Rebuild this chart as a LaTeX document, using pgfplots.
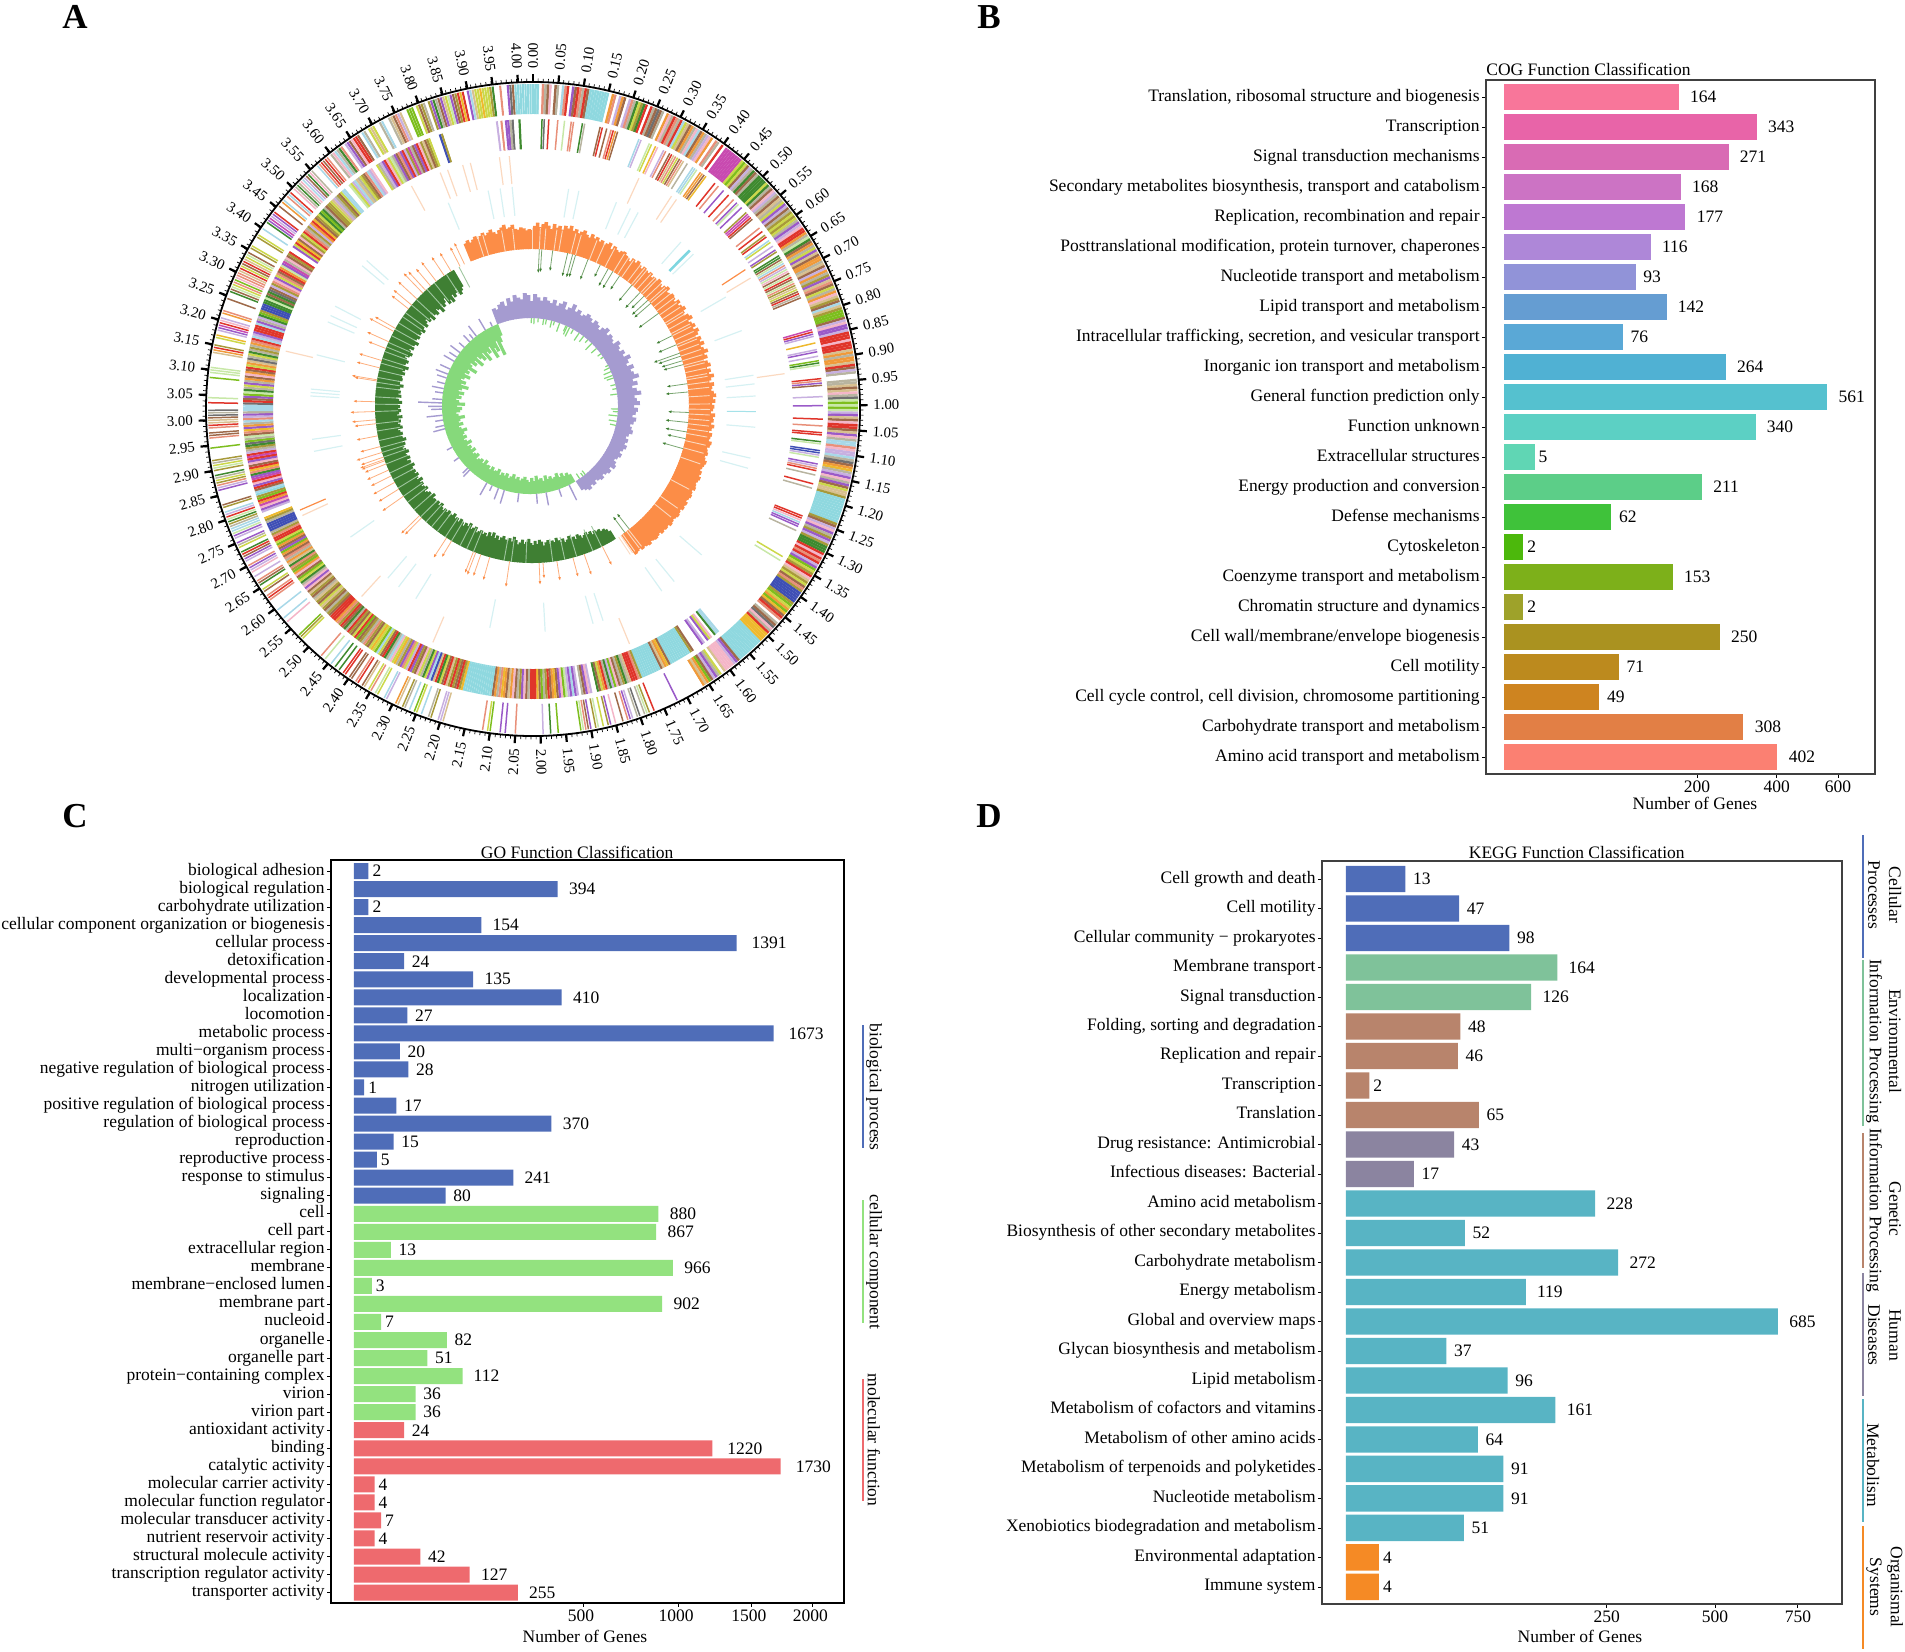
\documentclass[border=0pt]{standalone}
\usepackage{fontspec}
\setmainfont{Liberation Serif}
\usepackage{pgfplots}
\pgfplotsset{compat=1.18}
\usetikzlibrary{arrows.meta}
\pgfkeys{/pgf/number format/.cd,1000 sep={},fixed,precision=2,assume math mode=true}

\definecolor{cblue}{HTML}{4F6DB8}
\definecolor{cgreen}{HTML}{93E27F}
\definecolor{cred}{HTML}{EE6A6E}
\definecolor{kgreen}{HTML}{7FC29A}
\definecolor{kbrown}{HTML}{B8846C}
\definecolor{kgrey}{HTML}{8B84A0}
\definecolor{kteal}{HTML}{58B4C4}
\definecolor{korange}{HTML}{F58A25}
\definecolor{aorange}{HTML}{FC8D47}
\definecolor{agreen}{HTML}{3F7F33}
\definecolor{apurple}{HTML}{A59BD0}
\definecolor{alight}{HTML}{86D97B}
\definecolor{palecyan}{HTML}{D6F1F3}
\definecolor{paleorange}{HTML}{FBD9C0}
\definecolor{acyan}{HTML}{7FD6E0}

\newcommand{\lab}{\fontsize{8.75}{10}\selectfont}
% hjust -0.4 as in the original bar labels
\newcommand{\hj}[1]{\setbox0=\hbox{#1}\hspace*{0.42\wd0}\box0}

\pgfplotsset{
  every axis title shift=0pt,
  barpanel/.style={
    xbar, bar shift=0pt, scale only axis, anchor=north west, y dir=reverse,
    x filter/.code={\pgfmathparse{sqrt(##1)}},
    axis line style={draw=black!75, line width=0.8pt},
    tick style={draw=black, line width=0.4pt},
    major tick length=1.8pt, ytick pos=left, xtick pos=bottom,
    tick align=outside, minor tick num=0,
    tick label style={font=\lab, inner sep=1.2pt},
    yticklabel style={text height=6pt, text depth=2pt},
    point meta=rawx,
    nodes near coords={\hj{\pgfmathprintnumber[precision=0]{\pgfplotspointmeta}}},
    nodes near coords style={font=\lab, anchor=west, inner sep=0pt},
    title style={font=\lab, inner sep=0pt},
    xlabel style={font=\lab, inner sep=0pt, anchor=center},
  }
}

% one stripe per row, colour index read from the table, grid start+i*step in Mb
\newcommand{\ringrun}[6]{\addplot[line width=#5,
  quiver={u={(#2-#1)*sin((#3+\coordindex*#4)*89.33)}, v={(#2-#1)*cos((#3+\coordindex*#4)*89.33)}, colored=mapped color},
  point meta=\thisrowno{0}]
  table[row sep=crcr,header=false,x expr={#1*sin((#3+\coordindex*#4)*89.33)},y expr={#1*cos((#3+\coordindex*#4)*89.33)}]{#6};}
% bars of a histogram ring, heights in px, sign gives the direction
\newcommand{\hist}[6]{\addplot[draw=#1,line width=#6,
  quiver={u={#3*\thisrowno{0}*sin((#4+\coordindex*#5)*89.33)}, v={#3*\thisrowno{0}*cos((#4+\coordindex*#5)*89.33)}}]
  table[row sep=crcr,header=false,x expr={-1+#2*sin((#4+\coordindex*#5)*89.33)},y expr={3+#2*cos((#4+\coordindex*#5)*89.33)}]}
% free standing lines at given Mb positions
\newcommand{\lines}[6]{\addplot[draw=#1,line width=#4,
  quiver={u={(#3-#2)*sin(\thisrowno{0}*89.33)}, v={(#3-#2)*cos(\thisrowno{0}*89.33)}}]
  table[row sep=crcr,header=false,x expr={#5+#2*sin(\thisrowno{0}*89.33)},y expr={#6+#2*cos(\thisrowno{0}*89.33)}]}
% spikes: position, length, from a base radius
\newcommand{\spikes}[5]{\addplot[draw=#1,line width=#4,#5,
  quiver={u={#3*\thisrowno{1}*sin(\thisrowno{0}*89.33)}, v={#3*\thisrowno{1}*cos(\thisrowno{0}*89.33)}}]
  table[row sep=crcr,header=false,x expr={-1+#2*sin(\thisrowno{0}*89.33)},y expr={3+#2*cos(\thisrowno{0}*89.33)}]}

\begin{document}
\begin{tikzpicture}
\path[use as bounding box] (0,0) rectangle (952.5pt,-825.5pt);

% ---------- A: genome circle
\begin{axis}[hide axis, scale only axis, width=350pt, height=350pt, clip=false,
  xmin=-350,xmax=350,ymin=-350,ymax=350, anchor=center, at={(266.5pt,-204.5pt)},
  point meta min=0, point meta max=20,
  colormap={cog}{rgb255=(255,255,255) rgb255=(224,53,43) rgb255=(240,154,58) rgb255=(238,185,46)
    rgb255=(204,216,74) rgb255=(125,190,30) rgb255=(63,138,47) rgb255=(168,154,58)
    rgb255=(168,216,232) rgb255=(63,79,181) rgb255=(154,90,200) rgb255=(200,74,176)
    rgb255=(244,182,200) rgb255=(232,144,122) rgb255=(158,106,74) rgb255=(184,180,160)
    rgb255=(200,176,224) rgb255=(216,192,144) rgb255=(200,232,168) rgb255=(112,112,112)
    rgb255=(143,216,223)}]

% outer ring, dense part
\ringrun{295}{325}{0}{0.005}{1.25pt}{
20\\20\\20\\0\\13\\15\\14\\12\\0\\14\\15\\0\\8\\13\\1\\0\\10\\14\\1\\13\\
15\\1\\14\\20\\20\\20\\20\\20\\20\\20\\20\\0\\2\\13\\0\\16\\2\\14\\0\\16\\
13\\15\\6\\4\\7\\6\\1\\0\\1\\15\\14\\19\\14\\15\\0\\2\\12\\15\\1\\13\\
15\\1\\8\\4\\17\\14\\2\\15\\12\\8\\14\\2\\15\\16\\12\\2\\0\\13\\15\\0\\
1\\0\\11\\11\\11\\11\\11\\11\\11\\11\\4\\5\\4\\14\\16\\15\\6\\14\\15\\6\\
6\\6\\6\\4\\6\\15\\14\\12\\16\\15\\14\\17\\15\\4\\10\\16\\14\\15\\7\\4\\
7\\4\\15\\10\\16\\12\\1\\1\\2\\15\\18\\6\\14\\2\\15\\4\\10\\17\\14\\2\\
2\\15\\17\\14\\16\\2\\15\\7\\10\\17\\13\\14\\4\\15\\2\\12\\17\\7\\14\\8\\
17\\7\\5\\5\\5\\14\\16\\12\\10\\10\\16\\1\\1\\1\\12\\1\\1\\1\\17\\2\\
15\\2\\2\\17\\1\\14\\16\\15\\0\\0\\15\\15\\17\\14\\17\\12\\15\\19\\18\\5\\
18\\5\\18\\16\\10\\17\\14\\12\\1\\1\\14\\17\\10\\12\\15\\8\\8\\13\\12\\16\\
16\\8\\15\\19\\14\\2\\3\\15\\16\\10\\12\\15\\10\\14\\4\\17\\17\\7\\20\\20\\
20\\20\\20\\20\\20\\20\\20\\20\\7\\14\\16\\12\\10\\15\\7\\10\\16\\7\\6\\6\\
6\\1\\12\\1\\13\\1\\16\\10\\5\\4\\7\\1\\12\\17\\7\\4\\14\\13\\7\\9\\
9\\9\\9\\9\\7\\5\\4\\2\\5\\3\\14\\1\\13\\0\\15\\14\\19\\12\\15\\1\\
3\\3\\3\\3\\20\\20\\20\\20\\20\\20\\20\\20\\20\\20\\20\\14\\10\\16\\12\\12\\
12\\12\\17\\0\\4\\15\\10\\16\\14\\5\\2\\17\\2\\0\\0\\0\\0\\0\\0\\0\\}
% outer ring, sparse part
\ringrun{295}{325}{1.70}{0.005}{0.75pt}{
0\\0\\0\\0\\10\\0\\0\\0\\0\\0\\0\\0\\0\\0\\1\\0\\7\\18\\15\\0\\
19\\15\\0\\16\\10\\13\\0\\14\\0\\0\\12\\0\\10\\7\\0\\4\\0\\18\\7\\0\\
10\\14\\13\\18\\5\\0\\0\\0\\0\\0\\0\\0\\0\\5\\0\\0\\6\\0\\0\\16\\
0\\0\\0\\0\\0\\0\\0\\0\\0\\0\\13\\0\\0\\0\\10\\0\\10\\0\\0\\0\\
5\\4\\0\\13\\0\\0\\0\\0\\0\\0\\0\\0\\0\\0\\0\\0\\0\\0\\0\\17\\
16\\16\\0\\0\\7\\15\\0\\0\\8\\0\\4\\5\\0\\8\\0\\15\\7\\0\\17\\2\\
0\\0\\0\\16\\8\\0\\0\\4\\18\\0\\13\\4\\0\\17\\14\\0\\1\\13\\0\\14\\
14\\0\\1\\1\\0\\6\\0\\6\\0\\8\\0\\0\\18\\0\\13\\0\\0\\0\\0\\0\\
0\\0\\0\\0\\4\\7\\5\\0\\0\\0\\0\\0\\0\\12\\0\\8\\0\\0\\0\\8\\
0\\0\\0\\0\\13\\1\\13\\0\\14\\4\\0\\6\\14\\13\\0\\16\\0\\12\\16\\10\\
13\\0\\16\\10\\14\\1\\6\\0\\4\\15\\10\\0\\16\\10\\18\\8\\8\\15\\7\\6\\
18\\1\\16\\8\\0\\7\\14\\0\\0\\0\\0\\0\\10\\16\\13\\7\\4\\15\\6\\0\\
7\\18\\4\\15\\7\\0\\0\\0\\0\\5\\0\\0\\0\\13\\14\\14\\0\\13\\1\\17\\
17\\14\\19\\15\\19\\0\\0\\1\\0\\18\\0\\0\\0\\0\\0\\0\\0\\5\\0\\18\\
18\\18\\0\\0\\0\\0\\0\\17\\2\\1\\7\\0\\0\\4\\3\\0\\16\\10\\11\\1\\
12\\16\\0\\2\\13\\0\\0\\0\\0\\14\\0\\0\\6\\14\\18\\4\\13\\5\\12\\13\\
13\\17\\1\\4\\14\\1\\17\\4\\18\\14\\0\\7\\4\\0\\0\\0\\7\\4\\0\\0\\
8\\0\\0\\6\\10\\11\\16\\10\\1\\0\\0\\14\\0\\2\\8\\0\\13\\8\\1\\0\\
12\\15\\6\\15\\12\\8\\16\\14\\6\\12\\15\\0\\0\\8\\13\\1\\14\\1\\13\\0\\}
\ringrun{295}{325}{3.60}{0.005}{1.05pt}{
15\\12\\8\\15\\6\\13\\0\\16\\10\\14\\12\\1\\1\\14\\0\\8\\15\\0\\4\\17\\
4\\0\\0\\15\\8\\0\\0\\15\\17\\14\\13\\16\\17\\0\\0\\5\\5\\5\\0\\4\\
14\\7\\15\\0\\7\\10\\6\\15\\14\\10\\17\\4\\18\\10\\14\\7\\1\\3\\1\\0\\
10\\8\\17\\4\\4\\3\\4\\4\\4\\7\\6\\0\\0\\13\\0\\0\\10\\19\\14\\20\\
20\\20\\20\\20\\20\\20\\20\\}

% second ring, sparse part
\ringrun{260}{290}{0}{0.005}{0.75pt}{
0\\0\\0\\0\\6\\19\\0\\1\\0\\0\\0\\13\\0\\0\\18\\0\\0\\13\\13\\0\\
0\\0\\6\\15\\0\\0\\0\\0\\0\\0\\14\\1\\0\\14\\0\\13\\1\\2\\14\\0\\
0\\0\\0\\0\\0\\0\\0\\0\\8\\16\\0\\0\\0\\18\\4\\0\\3\\12\\0\\0\\
16\\13\\0\\14\\1\\17\\13\\4\\14\\13\\17\\0\\15\\0\\0\\8\\8\\18\\0\\2\\
2\\14\\3\\0\\0\\0\\0\\1\\0\\13\\0\\0\\10\\0\\0\\1\\0\\0\\13\\0\\
10\\18\\0\\10\\0\\0\\7\\11\\11\\1\\14\\0\\0\\0\\0\\13\\0\\1\\0\\7\\
1\\0\\8\\4\\0\\16\\0\\10\\7\\0\\6\\6\\14\\18\\8\\13\\16\\18\\12\\14\\
18\\1\\14\\18\\13\\7\\17\\4\\14\\1\\15\\14\\0\\0\\0\\0\\0\\0\\0\\0\\
0\\0\\0\\0\\0\\0\\11\\1\\10\\16\\0\\0\\3\\0\\0\\16\\10\\0\\16\\0\\
5\\6\\18\\0\\0\\0\\0\\0\\1\\13\\10\\14\\0\\0\\0\\0\\16\\0\\0\\0\\
10\\0\\0\\0\\0\\0\\1\\0\\0\\13\\0\\0\\1\\1\\0\\0\\6\\18\\0\\0\\
9\\9\\16\\18\\0\\0\\10\\16\\13\\1\\0\\15\\0\\0\\0\\1\\0\\15\\0\\0\\
0\\0\\0\\0\\0\\0\\0\\0\\0\\0\\1\\1\\12\\8\\10\\10\\0\\15\\0\\0\\
0\\0\\0\\0\\0\\0\\0\\0\\0\\0\\4\\0\\18\\0\\0\\0\\0\\0\\0\\0\\}
% second ring, dense part
\ringrun{260}{290}{1.57}{0.005}{1.1pt}{
8\\8\\6\\0\\12\\4\\10\\0\\16\\10\\0\\0\\0\\0\\14\\7\\20\\20\\20\\20\\20\\20\\20\\20\\20\\20\\
14\\3\\2\\17\\14\\20\\20\\20\\20\\20\\20\\20\\20\\20\\7\\13\\1\\1\\1\\17\\
15\\6\\7\\15\\14\\12\\5\\16\\6\\15\\1\\2\\4\\14\\6\\0\\0\\16\\12\\10\\
14\\15\\0\\16\\10\\8\\10\\16\\18\\5\\12\\10\\14\\3\\2\\14\\1\\7\\15\\5\\
14\\3\\1\\1\\1\\15\\14\\12\\10\\7\\15\\14\\12\\2\\17\\14\\2\\3\\13\\15\\
2\\14\\20\\20\\20\\20\\20\\20\\20\\20\\20\\20\\20\\20\\20\\3\\7\\1\\14\\7\\
1\\7\\17\\1\\14\\4\\6\\1\\17\\9\\8\\10\\4\\6\\15\\4\\12\\14\\7\\10\\
1\\16\\4\\13\\10\\7\\15\\3\\4\\12\\8\\15\\6\\1\\14\\4\\8\\5\\4\\3\\
4\\14\\7\\13\\15\\7\\14\\5\\1\\4\\14\\7\\1\\15\\6\\14\\1\\7\\13\\2\\
1\\1\\1\\14\\7\\15\\14\\7\\17\\4\\14\\7\\17\\15\\14\\7\\17\\14\\12\\10\\
12\\15\\6\\4\\5\\14\\12\\2\\5\\7\\13\\6\\17\\2\\15\\13\\14\\2\\5\\10\\
14\\2\\5\\4\\1\\1\\13\\7\\15\\9\\9\\9\\9\\15\\7\\3\\0\\0\\16\\10\\
12\\11\\2\\1\\5\\7\\20\\8\\14\\1\\10\\12\\1\\11\\10\\6\\13\\3\\1\\14\\
12\\10\\1\\11\\1\\16\\15\\7\\6\\19\\5\\15\\18\\14\\13\\3\\10\\2\\15\\8\\
13\\16\\10\\15\\8\\8\\8\\19\\1\\14\\10\\5\\18\\6\\15\\4\\10\\15\\2\\14\\
12\\2\\14\\1\\4\\2\\17\\19\\15\\4\\6\\15\\7\\15\\2\\13\\1\\8\\16\\10\\
1\\1\\1\\8\\10\\15\\16\\6\\5\\7\\9\\9\\9\\6\\6\\18\\6\\14\\6\\19\\
14\\16\\7\\13\\12\\10\\4\\13\\14\\1\\2\\18\\10\\11\\15\\12\\14\\7\\1\\0\\
0\\10\\4\\1\\3\\14\\12\\7\\4\\1\\13\\15\\7\\16\\2\\1\\3\\14\\7\\4\\
6\\5\\6\\15\\14\\7\\7\\4\\17\\16\\15\\7\\14\\4\\8\\8\\0\\0\\18\\4\\
16\\8\\17\\15\\4\\7\\14\\13\\8\\16\\12\\0\\0\\4\\15\\16\\10\\1\\12\\4\\
18\\15\\10\\14\\13\\10\\1\\16\\7\\11\\15\\14\\10\\1\\12\\7\\17\\14\\7\\4\\
0\\0\\0\\0\\9\\7\\0\\0\\0\\0\\0\\0\\0\\0\\0\\0\\0\\0\\0\\0\\
0\\0\\0\\0\\0\\0\\0\\0\\0\\0\\16\\0\\13\\0\\10\\10\\15\\19\\0\\0\\
6\\}

% pale rings
\lines{paleorange}{226}{254}{0.6pt}{0}{0}{0.276\\0.37\\0.385\\0.66\\0.918\\1.765\\2.275\\2.49\\2.745\\3.17\\3.71\\3.79\\3.81\\3.85\\3.87\\3.945\\3.97\\};
\lines{aorange}{226}{254}{0.6pt}{0}{0}{0.635\\2.76\\};
\lines{palecyan}{194}{223}{0.6pt}{0}{0}{0.103\\0.133\\0.246\\0.29\\0.315\\0.465\\0.515\\0.67\\0.777\\0.91\\0.935\\0.97\\1.06\\1.15\\1.18\\1.465\\1.575\\1.62\\1.81\\1.84\\1.98\\2.14\\2.37\\2.43\\2.47\\2.63\\2.90\\2.935\\3.06\\3.07\\3.08\\3.18\\3.28\\3.30\\3.33\\3.47\\3.49\\3.78\\3.90\\3.935\\3.97\\};
\lines{acyan}{194}{223}{1.3pt}{0}{0}{0.50\\};
\lines{acyan!70}{194}{223}{0.5pt}{0}{0}{1.015\\};

% orange ring, outward from the base circle
\hist{aorange}{157}{1.1}{3.78}{0.01}{1.8pt}{
17\\19\\16\\18\\20\\17\\19\\21\\18\\20\\22\\19\\17\\20\\22\\24\\20\\21\\23\\19\\18\\20\\19\\17\\18\\
17\\21\\24\\20\\23\\25\\22\\19\\24\\21\\23\\20\\24\\22\\25\\21\\23\\20\\22\\24\\21\\19\\23\\20\\22\\
19\\21\\18\\20\\22\\17\\21\\19\\18\\20\\21\\19\\18\\16\\20\\18\\21\\19\\17\\20\\19\\18\\20\\17\\19\\
18\\21\\19\\17\\20\\22\\18\\19\\21\\20\\18\\22\\19\\21\\23\\20\\18\\22\\24\\19\\21\\23\\20\\24\\22\\
19\\23\\21\\24\\20\\22\\25\\21\\23\\19\\22\\24\\20\\23\\21\\25\\22\\20\\24\\22\\21\\23\\25\\22\\24\\
21\\23\\22\\20\\24\\22\\23\\21\\24\\22\\20\\23\\22\\21\\24\\23\\21\\22\\23\\21\\22\\24\\23\\22\\21\\
23\\22\\24\\23\\22\\23\\24\\22\\23\\24\\23\\22\\24\\23\\24\\22\\23\\24\\23\\22\\23\\24\\22\\23\\22\\
23\\21\\22\\23\\22\\21\\23\\22\\21\\22\\20\\21\\22\\};

% green ring, inward from the base circle
\hist{agreen}{157}{-1}{1.66}{0.01}{1.5pt}{
10\\13\\15\\14\\17\\16\\18\\15\\19\\17\\20\\18\\16\\19\\21\\17\\20\\18\\22\\19\\17\\21\\18\\20\\23\\19\\21\\18\\22\\20\\
17\\21\\23\\19\\22\\18\\20\\24\\21\\19\\23\\20\\18\\22\\25\\20\\23\\19\\21\\24\\22\\19\\23\\20\\25\\21\\24\\19\\22\\20\\
23\\21\\19\\24\\22\\20\\25\\21\\23\\19\\22\\24\\20\\23\\21\\25\\22\\19\\24\\21\\23\\20\\22\\25\\21\\24\\20\\23\\22\\26\\
21\\24\\22\\20\\25\\23\\21\\24\\22\\26\\21\\23\\25\\22\\24\\20\\23\\26\\22\\24\\21\\25\\23\\22\\26\\24\\21\\23\\25\\22\\
27\\24\\22\\25\\23\\21\\26\\24\\22\\25\\23\\27\\22\\24\\26\\23\\25\\22\\27\\24\\21\\26\\23\\25\\22\\24\\27\\23\\21\\25\\
24\\22\\26\\23\\25\\28\\22\\24\\26\\23\\21\\25\\27\\24\\22\\26\\23\\25\\28\\22\\24\\26\\21\\25\\23\\27\\24\\22\\26\\23\\
20\\25\\22\\27\\19\\24\\26\\21\\23\\28\\20\\25\\22\\18\\26\\23\\27\\20\\24\\21\\17\\25\\22\\19\\};

% pale streaks in the two thick rings
\lines{paleorange}{157}{178}{0.45pt}{-1}{3}{3.83\\3.85\\3.92\\3.96\\4.03\\0.03\\0.05\\0.09\\0.11\\0.16\\0.18\\0.24\\0.27\\0.31\\0.35\\0.37\\0.39\\0.42\\0.44\\0.45\\0.47\\0.49\\0.50\\0.52\\0.54\\0.55\\0.57\\0.59\\0.61\\0.63\\0.65\\0.66\\0.68\\0.70\\0.71\\0.73\\0.75\\0.76\\0.78\\0.80\\0.82\\0.84\\0.85\\0.87\\0.89\\0.90\\0.92\\0.94\\0.97\\1.00\\1.02\\1.04\\1.06\\1.08\\1.10\\1.12\\1.15\\1.18\\1.22\\1.32\\1.40\\1.44\\1.59\\1.60\\1.62\\1.63\\1.64\\};
\lines{green!25!gray!60}{134}{157}{0.45pt}{-1}{3}{1.72\\1.76\\1.83\\1.88\\1.93\\2.04\\2.10\\2.13\\2.26\\2.29\\2.32\\2.36\\2.39\\2.43\\2.46\\2.49\\2.52\\2.56\\2.60\\2.63\\2.67\\2.71\\2.74\\2.78\\2.81\\2.83\\2.85\\2.88\\2.92\\2.95\\3.00\\3.03\\3.06\\3.10\\3.12\\3.14\\3.17\\3.20\\3.22\\3.25\\3.27\\3.29\\3.32\\3.35\\3.38\\3.41\\3.43\\3.47\\3.50\\3.56\\3.60\\3.66\\3.72\\};

% sparse spikes outside the green part and inside the orange part
\spikes{aorange!70}{157}{1}{0.4pt}{-{Latex[length=1.8pt,width=1.4pt,color=aorange]}}{3.745 24\\3.725 22\\3.683 22\\3.65 23\\3.61 25\\3.58 23\\3.553 26\\3.537 28\\3.503 26\\3.47 24\\3.45 22\\3.354 24\\3.34 28\\3.293 24\\3.263 19\\3.211 24\\3.18 24\\3.13 26\\3.125 23\\3.04 22\\3.0 25\\2.966 24\\2.95 22\\2.90 22\\2.855 21\\2.83 27\\2.81 24\\2.80 26\\2.794 25\\2.78 23\\2.753 24\\2.727 23\\2.697 25\\2.665 24\\2.63 26\\2.527 26\\2.515 24\\2.384 24\\2.36 19\\2.26 23\\2.25 24\\2.228 23\\2.19 24\\2.107 26\\1.986 22\\1.97 16\\1.913 20\\1.846 20\\1.798 22\\1.717 21\\};
\spikes{agreen!70}{157}{-1}{0.4pt}{-{Latex[length=1.8pt,width=1.4pt,color=agreen]}}{0.03 24\\0.04 23\\0.085 21\\0.147 24\\0.168 24\\0.18 23\\0.234 22\\0.289 14\\0.325 20\\0.347 20\\0.38 17\\0.443 21\\0.488 22\\0.51 18\\0.533 22\\0.55 22\\0.602 25\\0.709 18\\0.75 20\\0.787 28\\0.80 24\\0.82 22\\0.836 21\\0.916 21\\0.95 23\\1.034 21\\1.075 23\\1.114 22\\1.142 19\\1.184 22\\1.586 20\\1.609 20\\};

% purple ring, outward from r=88
\addplot[draw=apurple,line width=2pt,
  quiver={u={\thisrowno{0}*sin((3.80+\coordindex*0.02)*89.33)}, v={\thisrowno{0}*cos((3.80+\coordindex*0.02)*89.33)}}]
  table[row sep=crcr,header=false,x expr={-3+88*sin((3.80+\coordindex*0.02)*89.33)},y expr={3+88*cos((3.80+\coordindex*0.02)*89.33)}]{
16\\14\\18\\20\\15\\22\\18\\24\\21\\19\\25\\23\\17\\24\\21\\18\\22\\19\\17\\21\\16\\19\\22\\15\\18\\23\\17\\20\\16\\18\\
21\\19\\16\\20\\18\\15\\19\\22\\17\\20\\18\\16\\22\\19\\17\\21\\18\\24\\20\\17\\23\\19\\21\\25\\18\\22\\16\\20\\24\\17\\
19\\22\\16\\20\\18\\15\\19\\17\\14\\16\\18\\15\\13\\16\\14\\17\\15\\13\\16\\14\\12\\15\\17\\13\\16\\14\\12\\15\\13\\11\\
14\\12\\15\\13\\11\\};
% light green ring, inward
\addplot[draw=alight,line width=1.6pt,
  quiver={u={-\thisrowno{0}*sin((1.68+\coordindex*0.02)*89.33)}, v={-\thisrowno{0}*cos((1.68+\coordindex*0.02)*89.33)}}]
  table[row sep=crcr,header=false,x expr={-3+88*sin((1.68+\coordindex*0.02)*89.33)},y expr={3+88*cos((1.68+\coordindex*0.02)*89.33)}]{
9\\12\\10\\14\\11\\16\\13\\12\\15\\13\\17\\12\\15\\14\\18\\13\\16\\12\\14\\17\\15\\13\\16\\14\\18\\15\\13\\17\\14\\16\\
13\\18\\15\\14\\17\\13\\16\\15\\19\\14\\17\\15\\13\\18\\16\\14\\19\\15\\17\\14\\20\\16\\14\\18\\15\\17\\21\\16\\14\\19\\
15\\17\\22\\16\\14\\18\\20\\15\\23\\17\\14\\19\\16\\21\\15\\18\\24\\16\\20\\14\\17\\22\\15\\19\\16\\25\\18\\15\\21\\17\\
26\\16\\20\\24\\17\\28\\19\\22\\16\\30\\20\\25\\15\\31\\18\\12\\};
\addplot[draw=apurple,line width=0.7pt,
  quiver={u={\thisrowno{1}*sin(\thisrowno{0}*89.33)}, v={\thisrowno{1}*cos(\thisrowno{0}*89.33)}}]
  table[row sep=crcr,header=false,x expr={-3+88*sin(\thisrowno{0}*89.33)},y expr={3+88*cos(\thisrowno{0}*89.33)}]{
1.72 17\\1.80 8\\1.897 13\\1.967 10\\2.097 9\\2.205 14\\2.25 12\\2.30 6\\2.343 14\\2.50 9\\2.52 7\\2.62 6\\2.71 6\\2.855 12\\2.88 9\\2.92 8\\2.955 16\\3.0 11\\3.02 14\\3.045 24\\3.07 10\\3.118 8\\3.15 12\\3.187 8\\3.23 10\\3.26 13\\3.30 11\\3.364 12\\3.40 9\\3.44 12\\3.49 7\\3.546 9\\3.58 6\\3.61 13\\3.689 13\\3.746 5\\};
\addplot[draw=alight,line width=0.6pt,
  quiver={u={-\thisrowno{1}*sin(\thisrowno{0}*89.33)}, v={-\thisrowno{1}*cos(\thisrowno{0}*89.33)}}]
  table[row sep=crcr,header=false,x expr={-3+88*sin(\thisrowno{0}*89.33)},y expr={3+88*cos(\thisrowno{0}*89.33)}]{
0.01 5\\0.03 6\\0.06 4\\0.10 6\\0.12 5\\0.16 7\\0.18 4\\0.22 9\\0.27 6\\0.28 9\\0.30 10\\0.33 5\\0.38 9\\0.42 7\\0.46 4\\0.50 9\\0.55 7\\0.60 4\\0.63 3\\0.70 3\\0.72 6\\0.75 8\\0.78 9\\0.80 7\\0.85 5\\0.88 4\\0.92 7\\1.03 7\\1.05 5\\1.08 9\\1.12 8\\1.15 6\\1.58 5\\1.60 4\\1.63 6\\};
\end{axis}

% scale of the circle
\begin{scope}[shift={(266.5pt,-204.5pt)}]
\draw[line width=0.9pt] (0,0) circle[radius=163.5pt];
\foreach \i in {0,...,402}{\draw[line width=0.35pt] ({90-\i*0.01*89.33}:163.5pt) -- ({90-\i*0.01*89.33}:165.2pt);}
\foreach \i in {0,...,80}{
  \pgfmathsetmacro{\th}{\i*0.05*89.33}
  \draw[line width=1.1pt] ({90-\th}:163.5pt) -- ({90-\th}:167.3pt);
  \pgfmathsetmacro{\mb}{\i*0.05}
  \pgfmathparse{\th<=180?1:0}
  \ifdim\pgfmathresult pt>0.5pt
    \node[rotate={90-\th},anchor=west,inner sep=0pt,font=\fontsize{7.4}{9}\selectfont] at ({90-\th}:170pt) {\pgfmathprintnumber[fixed zerofill,precision=2]{\mb}};
  \else
    \node[rotate={270-\th},anchor=east,inner sep=0pt,font=\fontsize{7.4}{9}\selectfont] at ({90-\th}:170pt) {\pgfmathprintnumber[fixed zerofill,precision=2]{\mb}};
  \fi
}
\end{scope}

% ---------- B: COG
\begin{axis}[barpanel, at={(743pt,-40pt)}, width=194.5pt, height=347pt, bar width=13.3pt,
  xmin=-1.32, xmax=27.2, ymin=-0.567, ymax=22.567,
  title={COG Function Classification}, title style={at={(axis description cs:0,1.0159)},anchor=west},
  xlabel={Number of Genes}, xlabel style={at={(axis description cs:0.537,-0.0418)}},
  xtick={14.142,20,24.495}, xticklabels={200,400,600},
  ytick={0,...,22},
  yticklabels={{Translation, ribosomal structure and biogenesis},Transcription,Signal transduction mechanisms,
    {Secondary metabolites biosynthesis, transport and catabolism},{Replication, recombination and repair},
    {Posttranslational modification, protein turnover, chaperones},Nucleotide transport and metabolism,
    Lipid transport and metabolism,{Intracellular trafficking, secretion, and vesicular transport},
    Inorganic ion transport and metabolism,General function prediction only,Function unknown,Extracellular structures,
    Energy production and conversion,Defense mechanisms,Cytoskeleton,Coenzyme transport and metabolism,
    Chromatin structure and dynamics,Cell wall/membrane/envelope biogenesis,Cell motility,
    {Cell cycle control, cell division, chromosome partitioning},Carbohydrate transport and metabolism,
    Amino acid transport and metabolism}]
\addplot[fill={rgb,255:red,248;green,118;blue,154},draw=none] coordinates {(164,0)};
\addplot[fill={rgb,255:red,232;green,100;blue,168},draw=none] coordinates {(343,1)};
\addplot[fill={rgb,255:red,217;green,107;blue,180},draw=none] coordinates {(271,2)};
\addplot[fill={rgb,255:red,204;green,115;blue,196},draw=none] coordinates {(168,3)};
\addplot[fill={rgb,255:red,190;green,120;blue,210},draw=none] coordinates {(177,4)};
\addplot[fill={rgb,255:red,174;green,135;blue,216},draw=none] coordinates {(116,5)};
\addplot[fill={rgb,255:red,145;green,147;blue,216},draw=none] coordinates {(93,6)};
\addplot[fill={rgb,255:red,101;green,157;blue,210},draw=none] coordinates {(142,7)};
\addplot[fill={rgb,255:red,90;green,168;blue,214},draw=none] coordinates {(76,8)};
\addplot[fill={rgb,255:red,80;green,177;blue,211},draw=none] coordinates {(264,9)};
\addplot[fill={rgb,255:red,85;green,193;blue,207},draw=none] coordinates {(561,10)};
\addplot[fill={rgb,255:red,92;green,208;blue,196},draw=none] coordinates {(340,11)};
\addplot[fill={rgb,255:red,96;green,214;blue,180},draw=none] coordinates {(5,12)};
\addplot[fill={rgb,255:red,92;green,206;blue,136},draw=none] coordinates {(211,13)};
\addplot[fill={rgb,255:red,63;green,194;blue,58},draw=none] coordinates {(62,14)};
\addplot[fill={rgb,255:red,76;green,184;blue,12},draw=none] coordinates {(2,15)};
\addplot[fill={rgb,255:red,125;green,176;blue,26},draw=none] coordinates {(153,16)};
\addplot[fill={rgb,255:red,158;green,162;blue,42},draw=none] coordinates {(2,17)};
\addplot[fill={rgb,255:red,170;green,146;blue,32},draw=none] coordinates {(250,18)};
\addplot[fill={rgb,255:red,188;green,138;blue,30},draw=none] coordinates {(71,19)};
\addplot[fill={rgb,255:red,206;green,132;blue,32},draw=none] coordinates {(49,20)};
\addplot[fill={rgb,255:red,226;green,127;blue,69},draw=none] coordinates {(308,21)};
\addplot[fill={rgb,255:red,251;green,128;blue,114},draw=none] coordinates {(402,22)};
\end{axis}

% ---------- C: GO
\begin{axis}[barpanel, at={(165.5pt,-430pt)}, width=256.5pt, height=371.5pt, bar width=8pt,
  axis line style={draw=black, line width=1pt},
  xmin=-2.24, xmax=47.76, ymin=-0.61, ymax=40.58,
  title={GO Function Classification}, title style={at={(axis description cs:0.48,1.0108)},anchor=center},
  xlabel={Number of Genes}, xlabel style={at={(axis description cs:0.495,-0.0444)}},
  xtick={22.361,31.623,38.730,44.721}, xticklabels={500,1000,1500,2000},
  xticklabel style={xshift=-1.2pt},
  ytick={0,...,40},
  yticklabels={biological adhesion,biological regulation,carbohydrate utilization,cellular component organization or biogenesis,
    cellular process,detoxification,developmental process,localization,locomotion,metabolic process,multi−organism process,
    negative regulation of biological process,nitrogen utilization,positive regulation of biological process,
    regulation of biological process,reproduction,reproductive process,response to stimulus,signaling,
    cell,cell part,extracellular region,membrane,membrane−enclosed lumen,membrane part,nucleoid,organelle,organelle part,
    protein−containing complex,virion,virion part,
    antioxidant activity,binding,catalytic activity,molecular carrier activity,molecular function regulator,
    molecular transducer activity,nutrient reservoir activity,structural molecule activity,transcription regulator activity,
    transporter activity}]
\addplot[fill=cblue,draw=none] coordinates {(2,0)(394,1)(2,2)(154,3)(1391,4)(24,5)(135,6)(410,7)(27,8)(1673,9)(20,10)(28,11)(1,12)(17,13)(370,14)(15,15)(5,16)(241,17)(80,18)};
\addplot[fill=cgreen,draw=none] coordinates {(880,19)(867,20)(13,21)(966,22)(3,23)(902,24)(7,25)(82,26)(51,27)(112,28)(36,29)(36,30)};
\addplot[fill=cred,draw=none] coordinates {(24,31)(1220,32)(1730,33)(4,34)(4,35)(7,36)(4,37)(42,38)(127,39)(255,40)};
\end{axis}

% ---------- D: KEGG
\begin{axis}[barpanel, at={(661pt,-430.5pt)}, width=260pt, height=371.5pt, bar width=13.2pt,
  xmin=-1.45, xmax=30.06, ymin=-0.61, ymax=24.58,
  title={KEGG Function Classification}, title style={at={(axis description cs:0.49,1.012)},anchor=center},
  xlabel={Number of Genes}, xlabel style={at={(axis description cs:0.496,-0.0431)}},
  xtick={15.811,22.361,27.386}, xticklabels={250,500,750},
  ytick={0,...,24},
  yticklabels={Cell growth and death,Cell motility,Cellular community − prokaryotes,Membrane transport,Signal transduction,
    {Folding, sorting and degradation},Replication and repair,Transcription,Translation,Drug resistance: Antimicrobial,
    Infectious diseases: Bacterial,Amino acid metabolism,Biosynthesis of other secondary metabolites,Carbohydrate metabolism,
    Energy metabolism,Global and overview maps,Glycan biosynthesis and metabolism,Lipid metabolism,
    Metabolism of cofactors and vitamins,Metabolism of other amino acids,Metabolism of terpenoids and polyketides,
    Nucleotide metabolism,Xenobiotics biodegradation and metabolism,Environmental adaptation,Immune system}]
\addplot[fill=cblue,draw=none] coordinates {(13,0)(47,1)(98,2)};
\addplot[fill=kgreen,draw=none] coordinates {(164,3)(126,4)};
\addplot[fill=kbrown,draw=none] coordinates {(48,5)(46,6)(2,7)(65,8)};
\addplot[fill=kgrey,draw=none] coordinates {(43,9)(17,10)};
\addplot[fill=kteal,draw=none] coordinates {(228,11)(52,12)(272,13)(119,14)(685,15)(37,16)(96,17)(161,18)(64,19)(91,20)(91,21)(51,22)};
\addplot[fill=korange,draw=none] coordinates {(4,23)(4,24)};
\end{axis}

% panel letters and side strips, px coordinates
\begin{scope}[x=0.5pt,y=-0.5pt]
\foreach \t/\a/\b in {A/75/17,B/989/17,C/75/816,D/989/816}
  \node[font=\fontsize{17.5}{20}\selectfont\bfseries,inner sep=0pt] at (\a,\b) {\t};
\draw[cblue,line width=0.7pt] (863,1025) -- (863,1148);
\draw[cgreen,line width=0.7pt] (863,1200) -- (863,1323);
\draw[cred,line width=0.7pt] (863,1379) -- (863,1501);
\node[rotate=-90,font=\lab,inner sep=0pt] at (874,1087) {biological process};
\node[rotate=-90,font=\lab,inner sep=0pt] at (874,1262) {cellular component};
\node[rotate=-90,font=\lab,inner sep=0pt] at (874,1440) {molecular function};
\draw[cblue,line width=0.8pt] (1863,835) -- (1863,958);
\draw[kgreen,line width=0.8pt] (1863,960) -- (1863,1126);
\draw[kbrown,line width=0.8pt] (1863,1133) -- (1863,1268);
\draw[kgrey,line width=0.8pt] (1863,1273) -- (1863,1396);
\draw[kteal,line width=0.8pt] (1863,1399) -- (1863,1522);
\draw[korange,line width=0.8pt] (1863,1526) -- (1863,1649);
\foreach \a/\b/\t in {1895/895/Cellular,1874/895/Processes,1895/1041/Environmental,1874/1041/Information Processing,
  1895/1209/Genetic,1874/1210/Information Processing,1895/1335/Human,1874/1335/Diseases,1873/1465/Metabolism,
  1895/1587/Organismal,1874/1587/Systems}
  \node[rotate=-90,font=\lab,inner sep=0pt] at (\a,\b) {\t};
\end{scope}
\end{tikzpicture}
\end{document}
